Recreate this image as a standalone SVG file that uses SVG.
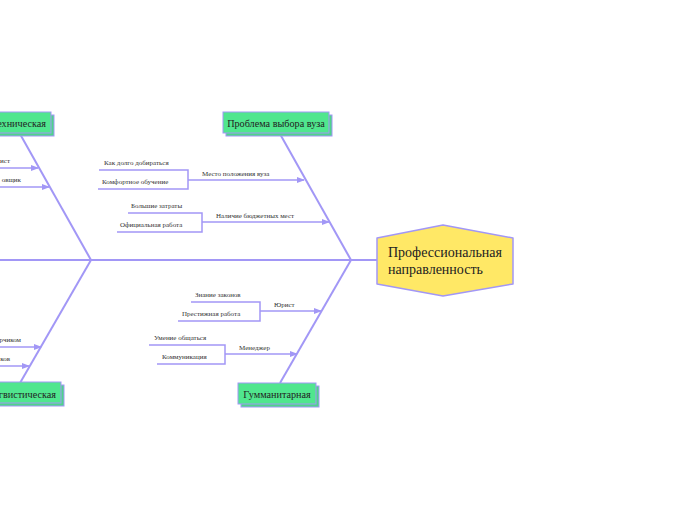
<svg xmlns="http://www.w3.org/2000/svg" width="697" height="520" viewBox="0 0 697 520">
<style>
.bone{stroke:#a297f6;stroke-width:2;fill:none}
.sub{stroke:#a297f6;stroke-width:1.5;fill:none}
.arr{stroke:#a297f6;stroke-width:1.5;fill:none;marker-end:url(#ah)}
.serif{font-family:"Liberation Serif","Times New Roman","DejaVu Serif",serif}
.lbl{font-size:7px;fill:#333}
.cat{font-size:10.2px;fill:#222}
.box{fill:#50e68e;stroke:#a297f6;stroke-width:1}
.shadow{fill:#4fd48a;stroke:#a297f6;stroke-width:1}
</style>
<defs>
<marker id="ah" markerWidth="8" markerHeight="6" refX="7" refY="3" orient="auto" markerUnits="userSpaceOnUse">
<path d="M0,0 L8,3 L0,6 Z" fill="#a297f6"/>
</marker>
</defs>
<rect width="697" height="520" fill="#ffffff"/>
<g id="connectors">
<line class="bone" x1="0" y1="260" x2="378" y2="260" stroke-width="2.5"/>
<line class="bone" x1="280" y1="134" x2="351" y2="260"/>
<line class="bone" x1="351" y1="260" x2="280" y2="383"/>
<line class="bone" x1="20" y1="134" x2="91" y2="260"/>
<line class="bone" x1="91" y1="260" x2="20" y2="383"/>
<polyline class="sub" points="99,170 188,170 188,189 98,189"/>
<line class="arr" x1="188" y1="180" x2="304" y2="180"/>
<polyline class="sub" points="128,213 202,213 202,232 117,232"/>
<line class="arr" x1="202" y1="222" x2="329" y2="222"/>
<polyline class="sub" points="191,302 260,302 260,321 178,321"/>
<line class="arr" x1="260" y1="311" x2="321" y2="311"/>
<polyline class="sub" points="149,345 225,345 225,364 157,364"/>
<line class="arr" x1="225" y1="354" x2="297" y2="354"/>
<line class="arr" x1="0" y1="168" x2="38" y2="168"/>
<line class="arr" x1="0" y1="187" x2="49" y2="187"/>
<line class="arr" x1="0" y1="347" x2="41" y2="347"/>
<line class="arr" x1="0" y1="366" x2="29" y2="366"/>
</g>
<g id="labels" class="serif">
<text class="lbl" x="104" y="165">Как долго добираться</text>
<text class="lbl" x="102" y="184">Комфортное обучение</text>
<text class="lbl" x="202" y="175.5">Место положения вуза</text>
<text class="lbl" x="131" y="208">Большие затраты</text>
<text class="lbl" x="120" y="227">Официальная работа</text>
<text class="lbl" x="216" y="218">Наличие бюджетных мест</text>
<text class="lbl" x="195" y="297">Знание законов</text>
<text class="lbl" x="182" y="316">Престижная работа</text>
<text class="lbl" x="274" y="307">Юрист</text>
<text class="lbl" x="154" y="340">Умение общаться</text>
<text class="lbl" x="162" y="359">Коммуникация</text>
<text class="lbl" x="239" y="350">Менеджер</text>
<text class="lbl" x="10" y="163" text-anchor="end">ист</text>
<text class="lbl" x="21" y="182" text-anchor="end">овщик</text>
<text class="lbl" x="21" y="342" text-anchor="end">рчиком</text>
<text class="lbl" x="10" y="361" text-anchor="end">ков</text>
</g>
<g id="cat-vuz" class="serif">
<rect class="shadow" x="226" y="115" width="106" height="21"/>
<rect class="box" x="223" y="112" width="106" height="21"/>
<text class="cat" x="276" y="127" text-anchor="middle">Проблема выбора вуза</text>
</g>
<g id="cat-gum" class="serif">
<rect class="shadow" x="241" y="386" width="78" height="21"/>
<rect class="box" x="238" y="383" width="78" height="21"/>
<text class="cat" x="277" y="398" text-anchor="middle">Гумманитарная</text>
</g>
<g id="cat-tech" class="serif">
<rect class="shadow" x="-20" y="115" width="74" height="21"/>
<rect class="box" x="-23" y="112" width="74" height="21"/>
<text class="cat" x="46" y="127" text-anchor="end">ехническая</text>
</g>
<g id="cat-ling" class="serif">
<rect class="shadow" x="-20" y="385" width="84" height="21"/>
<rect class="box" x="-23" y="382" width="84" height="21"/>
<text class="cat" x="56" y="398" text-anchor="end">гвистическая</text>
</g>
<g id="head" class="serif">
<path d="M377,238 L443,225 L513,238 L513,284 L443,296 L377,284 Z" fill="#ffe866" stroke="#a297f6" stroke-width="1.5" stroke-linejoin="round"/>
<text font-size="14" fill="#222"><tspan x="388" y="257">Профессиональная</tspan><tspan x="388" y="274">направленность</tspan></text>
</g>
</svg>
